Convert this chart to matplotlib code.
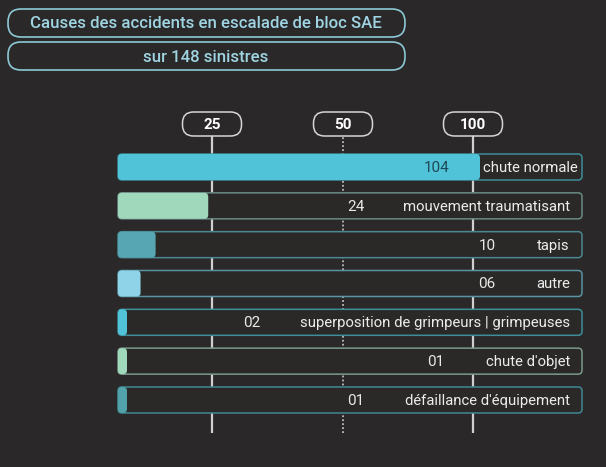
import numpy as np
import matplotlib
matplotlib.use("Agg")
import matplotlib.pyplot as plt
from matplotlib.patches import FancyBboxPatch
from matplotlib.transforms import Affine2D

# ---- data ----
title1 = "Causes des accidents en escalade de bloc SAE"
title2 = "sur 148 sinistres"
categories = ["chute normale", "mouvement traumatisant", "tapis", "autre",
              "superposition de grimpeurs | grimpeuses", "chute d'objet",
              "défaillance d'équipement"]
values = [104, 24, 10, 6, 2, 1, 1]
value_labels = ["104", "24", "10", "06", "02", "01", "01"]
ticks = [25, 50, 100]
tick_labels = ["25", "50", "100"]

# ---- style / layout ----
W, H = 606, 467
BG = "#2b2829"
TRACK = "#2a2928"
bar_colors = ["#50c3d9", "#a0d8bc", "#57a6b3", "#8fd3e8", "#50c3d9", "#a0d8bc", "#52a2ac"]
edge_colors = ["#3e8d99", "#6a8a84", "#4a8790", "#5b93a2", "#3e8d99", "#7a9a8c", "#3f8891"]
value_colors = ["#1f4853", "#e8e8e8", "#e8e8e8", "#e8e8e8", "#e8e8e8", "#e8e8e8", "#e8e8e8"]
value_x = [437, 356, 487, 487, 252, 436, 356]
FONT = ["Roboto", "DejaVu Sans"]

fig = plt.figure(figsize=(W / 100, H / 100), dpi=100)
fig.patch.set_facecolor(BG)

px = Affine2D().scale(1, -1).translate(0, H)  # top-left pixel coords

x0, x1 = 118, 582
ytop, ybot = 135, 433
c0, pitch = 167, 38.83
ax = fig.add_axes([x0 / W, 1 - ybot / H, (x1 - x0) / W, (ybot - ytop) / H])
ax.set_facecolor("none")

XP = [0, 25, 50, 100, 200]
FP = [0, 94, 225, 355, 530]
fwd = lambda x: np.interp(x, XP, FP)
inv = lambda y: np.interp(y, FP, XP)
ax.set_xscale("function", functions=(fwd, inv))
ax.set_xlim(0, float(inv(x1 - x0)))
ax.set_ylim((ybot - c0) / pitch, (ytop - c0) / pitch)
ax.axis("off")

# grid lines
for t in ticks:
    if t == 50:
        ax.axvline(t, color="#bdbdbd", lw=1.3, ls=(0, (1, 1.2)), zorder=1)
    else:
        ax.axvline(t, color="#cfcfcf", lw=1.6, zorder=1)

def to_px(xv, yv):
    X, Y = ax.transData.transform((xv, yv))
    return X, H - Y

bh = 26
for i, (cat, v) in enumerate(zip(categories, values)):
    xs, yc = to_px(0, i)
    xe, _ = to_px(v, i)
    xr, _ = to_px(ax.get_xlim()[1], i)
    track = FancyBboxPatch((xs, yc - bh / 2), xr - xs, bh,
                           boxstyle="round,pad=0,rounding_size=4",
                           fc=TRACK, ec=edge_colors[i], lw=1.1,
                           transform=px, zorder=3)
    fig.add_artist(track)
    w = max(xe - xs, 9)
    bar = FancyBboxPatch((xs, yc - bh / 2), w, bh,
                         boxstyle="round,pad=0,rounding_size=4",
                         fc=bar_colors[i], ec="none",
                         transform=px, zorder=4)
    fig.add_artist(bar)
    fig.text(value_x[i], yc + 1, value_labels[i], transform=px, ha="center",
             va="center", color=value_colors[i], fontsize=11, family=FONT, zorder=5)
    if i == 0:
        fig.text(xs + w + 3, yc + 1, cat, transform=px, ha="left", va="center",
                 color="#ececec", fontsize=10.7, family=FONT, zorder=5)
    else:
        fig.text(570, yc + 1, cat, transform=px, ha="right", va="center",
                 color="#ececec", fontsize=10.7, family=FONT, zorder=5)

# tick pills
for t, lab in zip(ticks, tick_labels):
    xc, _ = to_px(t, 0)
    pill = FancyBboxPatch((xc - 29.5, 112), 59, 24,
                          boxstyle="round,pad=0,rounding_size=11",
                          fc=BG, ec="#d6d6d6", lw=1.1, transform=px, zorder=3)
    fig.add_artist(pill)
    fig.text(xc, 125, lab, transform=px, ha="center", va="center",
             color="white", fontsize=11, fontweight="bold", family=FONT, zorder=5)

# title pills
for (ya, yb), txt in zip([(9, 37), (42, 70)], [title1, title2]):
    pill = FancyBboxPatch((8, ya), 397, yb - ya,
                          boxstyle="round,pad=0,rounding_size=13",
                          fc=BG, ec="#8cc9d4", lw=1.2, transform=px, zorder=3)
    fig.add_artist(pill)
    fig.text(206, (ya + yb) / 2 + 1, txt, transform=px, ha="center", va="center",
             color="#9fd5e2", fontsize=12.1, fontweight="medium", family=FONT, zorder=5)

fig.savefig("out.png", dpi=100, facecolor=BG)
